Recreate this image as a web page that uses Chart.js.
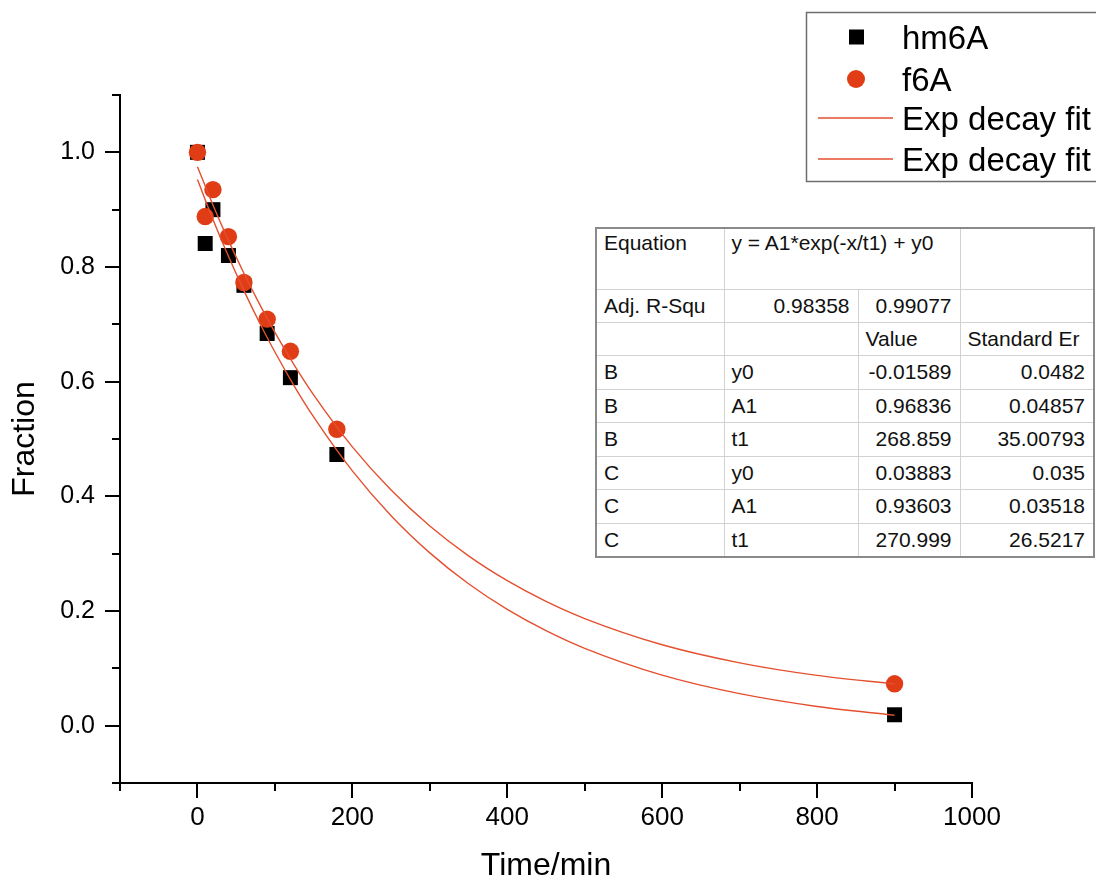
<!DOCTYPE html>
<html>
<head>
<meta charset="utf-8">
<script src="https://cdn.jsdelivr.net/npm/chart.js@4/dist/chart.umd.min.js"></script>
<style>
  html, body { margin: 0; padding: 0; background: #ffffff; }
  #wrap { position: relative; width: 1096px; height: 882px; overflow: hidden; }
  #c { position: absolute; left: 0; top: 0; }
  #fitTable {
    position: absolute; left: 595px; top: 227px;
    border-collapse: collapse; table-layout: fixed;
    font-family: 'Liberation Sans', Arial, sans-serif; font-size: 21px; color: #111;
    background: #fff; border: 2px solid #8a8a8a;
  }
  #fitTable td {
    border: 1.5px solid #d2d2d2; padding: 0 7px; white-space: nowrap; overflow: hidden;
    box-sizing: border-box; line-height: 22px; vertical-align: middle;
  }
  #fitTable td.r { text-align: right; padding-right: 8px; }
  #fitTable td.top { vertical-align: top; padding-top: 3px; }
</style>
</head>
<body>
<div id="wrap">
  <canvas id="c" width="1096" height="882"></canvas>
  <table id="fitTable"></table>
</div>
<script>
// ---- data ----
const timeMin = [0, 10, 20, 40, 60, 90, 120, 180, 900];
const hm6A = [1.0, 0.841, 0.900, 0.820, 0.768, 0.684, 0.607, 0.473, 0.019];
const f6A  = [1.0, 0.888, 0.935, 0.853, 0.773, 0.709, 0.653, 0.517, 0.073];

const fitX = [0, 20, 40, 60, 80, 100, 125, 150, 200, 250, 300, 350, 400, 450, 500, 600, 700, 800, 900];
const fitHm6A = [0.9525, 0.8830, 0.8186, 0.7588, 0.7033, 0.6517, 0.5924, 0.5384, 0.4443, 0.3662, 0.3014, 0.2475, 0.2028, 0.1657, 0.1349, 0.0881, 0.0558, 0.0335, 0.0182];
const fitF6A  = [0.9749, 0.9083, 0.8464, 0.7890, 0.7356, 0.6860, 0.6290, 0.5770, 0.4863, 0.4109, 0.3482, 0.2961, 0.2528, 0.2167, 0.1868, 0.1411, 0.1096, 0.0877, 0.0726];

const seriesLabels = ['hm6A', 'f6A', 'Exp decay fit', 'Exp decay fit'];
const xTickLabels = [0, 200, 400, 600, 800, 1000];
const xMinorTicks = [-100, 100, 300, 500, 700, 900];
const yTickLabels = [0.0, 0.2, 0.4, 0.6, 0.8, 1.0];
const yMinorTicks = [-0.1, 0.1, 0.3, 0.5, 0.7, 0.9, 1.1];
const xTitle = 'Time/min';
const yTitle = 'Fraction';

// fit-result table text
const tableRows = [
  ['Equation', 'y = A1*exp(-x/t1) + y0', ''],
  ['Adj. R-Squ', '0.98358', '0.99077', ''],
  ['', '', 'Value', 'Standard Er'],
  ['B', 'y0', '-0.01589', '0.0482'],
  ['B', 'A1', '0.96836', '0.04857'],
  ['B', 't1', '268.859', '35.00793'],
  ['C', 'y0', '0.03883', '0.035'],
  ['C', 'A1', '0.93603', '0.03518'],
  ['C', 't1', '270.999', '26.5217']
];

// ---- table ----
(function buildTable() {
  const colW = [128, 134, 102, 134];
  const rowH = [61, 33, 33, 34, 33, 34, 33, 34, 34];
  const t = document.getElementById('fitTable');
  const cg = document.createElement('colgroup');
  colW.forEach(w => { const c = document.createElement('col'); c.style.width = w + 'px'; cg.appendChild(c); });
  t.appendChild(cg);
  t.style.width = colW.reduce((a, b) => a + b, 0) + 'px';
  tableRows.forEach((row, ri) => {
    const tr = document.createElement('tr');
    tr.style.height = rowH[ri] + 'px';
    if (ri === 0) {
      const a = document.createElement('td'); a.textContent = row[0]; a.className = 'top';
      const b = document.createElement('td'); b.textContent = row[1]; b.colSpan = 2; b.className = 'top';
      const c = document.createElement('td'); c.textContent = row[2];
      tr.append(a, b, c);
    } else {
      row.forEach((txt, ci) => {
        const td = document.createElement('td');
        td.textContent = txt;
        const numeric = /^-?[0-9.]+$/.test(txt);
        if (numeric && ci >= 1) td.className = 'r';
        tr.appendChild(td);
      });
    }
    t.appendChild(tr);
  });
})();

// ---- chart ----
const FONT = "'Liberation Sans', Arial, sans-serif";
const RED = '#E03C16';
const LINE_RED = '#E4502F';

const toXY = (xs, ys) => xs.map((x, i) => ({ x: x, y: ys[i] }));

const tickPlugin = {
  id: 'originTicks',
  afterDraw(chart) {
    const ctx = chart.ctx;
    const xs = chart.scales.x, ys = chart.scales.y;
    const ca = chart.chartArea;
    ctx.save();
    ctx.strokeStyle = '#000';
    ctx.lineWidth = 2;
    ctx.beginPath();
    xTickLabels.forEach(v => { const p = Math.round(xs.getPixelForValue(v)); ctx.moveTo(p, ca.bottom); ctx.lineTo(p, ca.bottom + 15); });
    xMinorTicks.forEach(v => { const p = Math.round(xs.getPixelForValue(v)); ctx.moveTo(p, ca.bottom); ctx.lineTo(p, ca.bottom + 8); });
    yTickLabels.forEach(v => { const p = Math.round(ys.getPixelForValue(v)); ctx.moveTo(ca.left, p); ctx.lineTo(ca.left - 15, p); });
    yMinorTicks.forEach(v => { const p = Math.round(ys.getPixelForValue(v)); ctx.moveTo(ca.left, p); ctx.lineTo(ca.left - 8, p); });
    ctx.moveTo(ca.left - 8, ca.bottom); ctx.lineTo(ca.left, ca.bottom);
    ctx.stroke();
    ctx.restore();
  }
};

const legendPlugin = {
  id: 'boxLegend',
  afterDraw(chart) {
    const ctx = chart.ctx;
    const ds = chart.data.datasets;
    ctx.save();
    ctx.fillStyle = '#fff';
    ctx.fillRect(806, 12, 300, 170);
    ctx.strokeStyle = '#6e6e6e';
    ctx.lineWidth = 1.5;
    ctx.strokeRect(806.5, 12.5, 300, 169);
    const rows = [37, 79, 118, 159];
    ctx.font = '33px ' + FONT;
    ctx.textBaseline = 'middle';
    ctx.textAlign = 'left';
    ds.forEach((d, i) => {
      const y = rows[i];
      if (d.pointStyle === 'rect' && !d.showLine) {
        ctx.fillStyle = d.backgroundColor;
        ctx.fillRect(849, y - 7.5, 15, 15);
      } else if (!d.showLine) {
        ctx.fillStyle = d.backgroundColor;
        ctx.beginPath(); ctx.arc(856, y, 9, 0, Math.PI * 2); ctx.fill();
      } else {
        ctx.strokeStyle = d.borderColor;
        ctx.lineWidth = 1.3;
        ctx.beginPath(); ctx.moveTo(818, y); ctx.lineTo(893, y); ctx.stroke();
      }
      ctx.fillStyle = '#000';
      ctx.fillText(d.label, 902, y + 3);
    });
    ctx.restore();
  }
};

new Chart(document.getElementById('c'), {
  type: 'scatter',
  data: {
    datasets: [
      { label: seriesLabels[0], data: toXY(timeMin, hm6A), pointStyle: 'rect', pointRadius: 10.6, pointHoverRadius: 10.6,
        backgroundColor: '#000', borderColor: '#000', borderWidth: 0, showLine: false, order: 3 },
      { label: seriesLabels[1], data: toXY(timeMin, f6A), pointStyle: 'circle', pointRadius: 8.7, pointHoverRadius: 8.7,
        backgroundColor: RED, borderColor: RED, borderWidth: 0, showLine: false, order: 2 },
      { label: seriesLabels[2], data: toXY(fitX, fitHm6A), showLine: true, pointRadius: 0, pointHoverRadius: 0,
        borderColor: LINE_RED, backgroundColor: LINE_RED, borderWidth: 1.4, cubicInterpolationMode: 'monotone', order: 1 },
      { label: seriesLabels[3], data: toXY(fitX, fitF6A), showLine: true, pointRadius: 0, pointHoverRadius: 0,
        borderColor: LINE_RED, backgroundColor: LINE_RED, borderWidth: 1.4, cubicInterpolationMode: 'monotone', order: 0 }
    ]
  },
  options: {
    responsive: false,
    animation: false,
    devicePixelRatio: 1,
    events: [],
    layout: { padding: { top: 95, right: 124, left: 0, bottom: 0 } },
    plugins: { legend: { display: false }, tooltip: { enabled: false } },
    scales: {
      x: {
        type: 'linear', min: -100, max: 1000,
        afterBuildTicks: (s) => { s.ticks = xTickLabels.map(v => ({ value: v })); },
        afterFit: (s) => { s.height = 99; },
        grid: { display: false, drawTicks: false, tickLength: 0 },
        border: { display: true, color: '#000', width: 2 },
        ticks: { padding: 19, color: '#000', font: { family: FONT, size: 26 }, maxRotation: 0, autoSkip: false,
                 callback: (v) => String(v) },
        title: { display: true, text: xTitle, color: '#000', font: { family: FONT, size: 32, lineHeight: 1 }, padding: { top: 0, bottom: 0 } }
      },
      y: {
        type: 'linear', min: -0.1, max: 1.1,
        afterBuildTicks: (s) => { s.ticks = yTickLabels.map(v => ({ value: v })); },
        afterFit: (s) => { s.width = 120; },
        grid: { display: false, drawTicks: false, tickLength: 0 },
        border: { display: true, color: '#000', width: 2 },
        ticks: { padding: 25, color: '#000', font: { family: FONT, size: 25 }, autoSkip: false,
                 callback: (v) => Number(v).toFixed(1) },
        title: { display: true, text: yTitle, color: '#000', font: { family: FONT, size: 32, lineHeight: 1 }, padding: { top: 9, bottom: 0 } }
      }
    }
  },
  plugins: [tickPlugin, legendPlugin]
});
</script>
</body>
</html>
